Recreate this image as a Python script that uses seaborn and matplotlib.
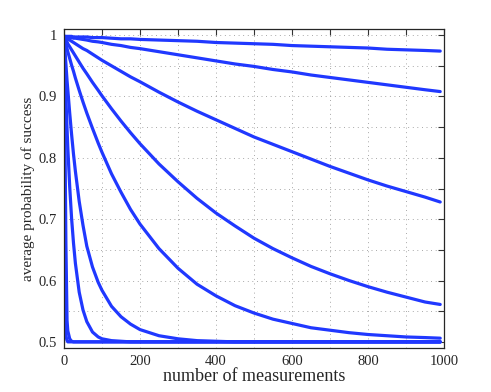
import numpy as np
import pandas as pd
import matplotlib
matplotlib.use('Agg')
import matplotlib.pyplot as plt
import seaborn as sns

n_meas = [1, 3, 5, 8, 10, 15, 20, 25, 30, 40, 50, 60, 75, 90, 100, 125, 150, 175, 200,
          250, 300, 350, 400, 450, 500, 550, 600, 650, 700, 750, 800, 850, 900, 950, 990]

# average probability of success, one list per curve (slowest decay first)
curve1 = [0.998, 0.998, 0.998, 0.998, 0.998, 0.998, 0.998, 0.997, 0.997, 0.997, 0.997, 0.997,
          0.996, 0.996, 0.996, 0.995, 0.994, 0.994, 0.993, 0.992, 0.991, 0.990, 0.988, 0.987,
          0.986, 0.985, 0.983, 0.982, 0.981, 0.980, 0.979, 0.977, 0.976, 0.975, 0.974]
curve2 = [0.998, 0.998, 0.997, 0.997, 0.997, 0.996, 0.996, 0.995, 0.995, 0.994, 0.993, 0.992,
          0.990, 0.989, 0.988, 0.985, 0.983, 0.980, 0.978, 0.973, 0.968, 0.963, 0.958, 0.953,
          0.949, 0.944, 0.940, 0.935, 0.931, 0.927, 0.923, 0.919, 0.915, 0.911, 0.908]
curve3 = [0.998, 0.997, 0.996, 0.995, 0.994, 0.992, 0.990, 0.988, 0.986, 0.982, 0.978, 0.975,
          0.969, 0.963, 0.959, 0.950, 0.941, 0.932, 0.924, 0.907, 0.891, 0.876, 0.862, 0.848,
          0.834, 0.822, 0.810, 0.798, 0.786, 0.775, 0.764, 0.754, 0.745, 0.736, 0.728]
curve4 = [0.996, 0.994, 0.992, 0.989, 0.986, 0.981, 0.976, 0.971, 0.966, 0.956, 0.946, 0.937,
          0.923, 0.910, 0.901, 0.880, 0.860, 0.841, 0.823, 0.790, 0.761, 0.734, 0.710, 0.689,
          0.669, 0.652, 0.637, 0.623, 0.611, 0.600, 0.590, 0.581, 0.573, 0.565, 0.561]
curve5 = [0.994, 0.989, 0.984, 0.978, 0.973, 0.962, 0.951, 0.941, 0.930, 0.910, 0.891, 0.873,
          0.848, 0.824, 0.809, 0.774, 0.744, 0.716, 0.692, 0.652, 0.620, 0.594, 0.575, 0.559,
          0.547, 0.537, 0.530, 0.523, 0.519, 0.515, 0.512, 0.510, 0.508, 0.507, 0.506]
curve6 = [0.990, 0.971, 0.953, 0.926, 0.911, 0.873, 0.838, 0.806, 0.778, 0.729, 0.690, 0.656,
          0.622, 0.597, 0.584, 0.558, 0.541, 0.529, 0.520, 0.510, 0.505, 0.502, 0.501, 0.500,
          0.500, 0.500, 0.500, 0.500, 0.500, 0.500, 0.500, 0.500, 0.500, 0.500, 0.500]
curve7 = [0.978, 0.936, 0.898, 0.848, 0.817, 0.753, 0.701, 0.661, 0.628, 0.581, 0.552, 0.533,
          0.516, 0.508, 0.505, 0.502, 0.501, 0.500, 0.500, 0.500, 0.500, 0.500, 0.500, 0.500,
          0.500, 0.500, 0.500, 0.500, 0.500, 0.500, 0.500, 0.500, 0.500, 0.500, 0.500]
curve8 = [0.946, 0.800, 0.660, 0.535, 0.518, 0.505, 0.501, 0.500, 0.500, 0.500, 0.500, 0.500,
          0.500, 0.500, 0.500, 0.500, 0.500, 0.500, 0.500, 0.500, 0.500, 0.500, 0.500, 0.500,
          0.500, 0.500, 0.500, 0.500, 0.500, 0.500, 0.500, 0.500, 0.500, 0.500, 0.500]
curve9 = [0.760, 0.560, 0.510, 0.502, 0.500, 0.500, 0.500, 0.500, 0.500, 0.500, 0.500, 0.500,
          0.500, 0.500, 0.500, 0.500, 0.500, 0.500, 0.500, 0.500, 0.500, 0.500, 0.500, 0.500,
          0.500, 0.500, 0.500, 0.500, 0.500, 0.500, 0.500, 0.500, 0.500, 0.500, 0.500]

curves = [curve1, curve2, curve3, curve4, curve5, curve6, curve7, curve8, curve9]

x_ticks = list(range(0, 1001, 100))
x_labels = [str(t) if t % 200 == 0 else '' for t in x_ticks]
y_ticks = [0.5, 0.55, 0.6, 0.65, 0.7, 0.75, 0.8, 0.85, 0.9, 0.95, 1.0]
y_labels = ['0.5', '', '0.6', '', '0.7', '', '0.8', '', '0.9', '', '1']

rows = []
for k, c in enumerate(curves):
    for n, p in zip(n_meas, c):
        rows.append({'n': n, 'p': p, 'curve': k})
df = pd.DataFrame(rows)

sns.set_style('white')
plt.rcParams['font.family'] = ['Liberation Serif', 'DejaVu Serif']

fig = plt.figure(figsize=(4.91, 3.92), dpi=100)
ax = fig.add_axes([64 / 491, 1 - 348 / 392, 380 / 491, 319 / 392])

blue = '#2038ff'
sns.lineplot(data=df, x='n', y='p', hue='curve', palette=[blue] * len(curves),
             legend=False, errorbar=None, linewidth=2.3, ax=ax)

ax.set_xlim(0, 1000)
ax.set_ylim(0.49, 1.01)
ax.set_xticks(x_ticks)
ax.set_xticklabels(x_labels)
ax.set_yticks(y_ticks)
ax.set_yticklabels(y_labels)

# matlab-like dotted grid
ax.grid(True, color='#8a8a8a', linestyle=(0, (1, 4.5)), linewidth=0.6)
ax.set_axisbelow(True)
ax.tick_params(direction='in', length=4, width=0.8, color='#333333',
               top=True, right=True, labelsize=10.5, pad=5)
for s in ax.spines.values():
    s.set_visible(True)
    s.set_color('#262626')
    s.set_linewidth(0.9)

ax.set_xlabel('number of measurements', fontsize=13, labelpad=0)
ax.set_ylabel('average probability of success', fontsize=11, labelpad=3)

fig.savefig('out.png', dpi=100, facecolor='white')
